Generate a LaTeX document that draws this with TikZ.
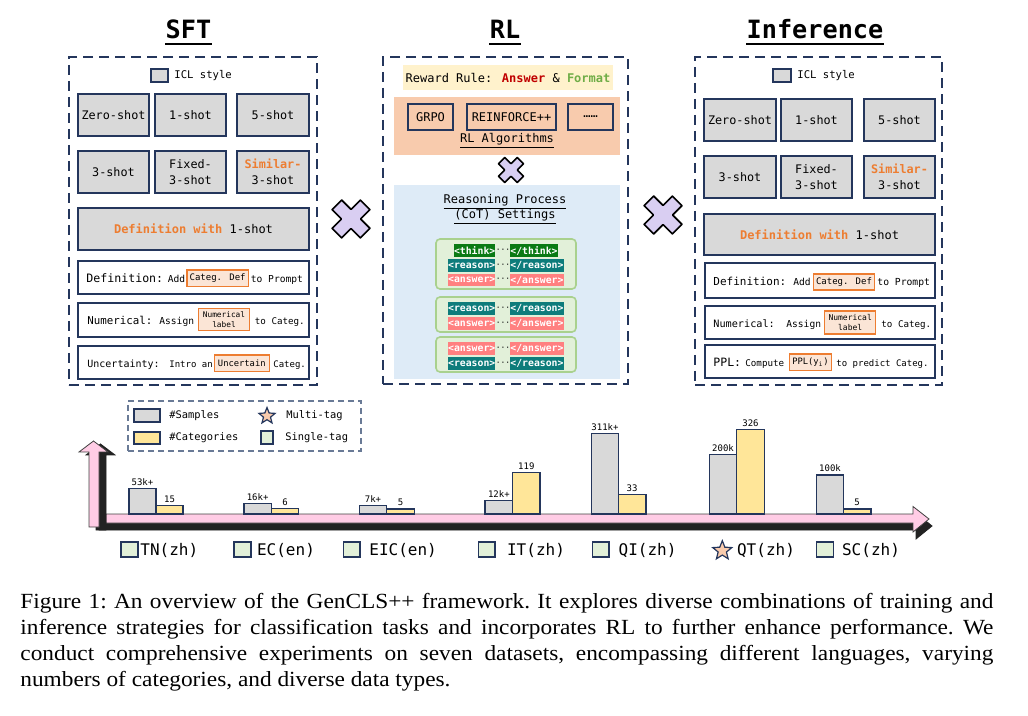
\documentclass[tikz,border=0pt]{standalone}
\usepackage{fontspec}
\setmainfont{Liberation Serif}
\newfontfamily\capfont[FakeStretch=1.08]{Liberation Serif}
\newfontfamily\monof{DejaVu Sans Mono}
\usetikzlibrary{shapes.geometric}
\definecolor{navy}{HTML}{24365C}
\definecolor{lgray}{HTML}{D9D9D9}
\definecolor{orng}{HTML}{ED7D31}
\definecolor{peach}{HTML}{FBE5D6}
\definecolor{rlpeach}{HTML}{F8CBAD}
\definecolor{ryellow}{HTML}{FFF2CC}
\definecolor{rblue}{HTML}{DEEBF7}
\definecolor{ggreen}{HTML}{E2F0D9}
\definecolor{gborder}{HTML}{A9D18E}
\definecolor{thinkc}{HTML}{0A7A14}
\definecolor{reasonc}{HTML}{0E7C7B}
\definecolor{answerc}{HTML}{FF8080}
\definecolor{lav}{HTML}{D9CEF2}
\definecolor{ybar}{HTML}{FFE699}
\definecolor{pinkc}{HTML}{FFCCE5}
\definecolor{dred}{HTML}{C00000}
\definecolor{fgreen}{HTML}{70AD47}
\definecolor{legb}{HTML}{697A96}
\definecolor{shadowc}{HTML}{222222}
\newcommand\mf[2]{\monof\fontsize{#1}{#2}\selectfont}
\newcommand\mybox[7][]{%
  \pgfmathsetmacro\mbW{(#5-#3)*0.5}%
  \pgfmathsetmacro\mbH{(#6-#4)*0.5}%
  \node[inner sep=0pt, minimum width=\mbW pt, minimum height=\mbH pt, #1] (#2) at ({(#3+#5)/2},{(#4+#6)/2}) {#7};}
\newcommand\xcross[3]{%
  \pgfmathsetmacro\cw{0.34*#3}%
  \draw[crossst, shift={(#1,#2)}, rotate=45] (\cw,#3) -- (\cw,\cw) -- (#3,\cw) -- (#3,-\cw) -- (\cw,-\cw) -- (\cw,-#3) -- (-\cw,-#3) -- (-\cw,-\cw) -- (-#3,-\cw) -- (-#3,\cw) -- (-\cw,\cw) -- (-\cw,#3) -- cycle;}
\tikzset{
  panel/.style={draw=navy, line width=1pt, dash pattern=on 5pt off 3pt},
  gbox/.style={draw=navy, fill=lgray, line width=0.6pt},
  wbox/.style={draw=navy, fill=white, line width=0.6pt},
  ibox/.style={draw=orng, fill=peach, line width=0.6pt, align=center},
  txt/.style={inner sep=0pt},
  crossst/.style={fill=lav, draw=black, line width=0.8pt, line join=round},
  algbox/.style={draw=navy, line width=0.6pt, font=\mf{6}{7}},
  grp/.style={fill=ggreen, draw=gborder, line width=0.8pt, rounded corners=2pt},
  tag/.style={inner sep=0pt, minimum height=6.3pt, text=white, font={\mf{4.9}{5}\bfseries}},
  thinktag/.style={tag, fill=thinkc},
  reasontag/.style={tag, fill=reasonc},
  answertag/.style={tag, fill=answerc},
  dots/.style={inner sep=0pt, font=\mf{4}{5}},
  sbar/.style={draw=navy, fill=lgray, line width=0.6pt},
  ybarst/.style={draw=navy, fill=ybar, line width=0.6pt},
  blab/.style={inner sep=0pt, anchor=south, font=\mf{4.5}{5}, yshift=1pt},
  dsw/.style={draw=navy, fill=ggreen, line width=0.6pt},
  dlab/.style={inner sep=0pt, anchor=west, font=\mf{8}{9}},
  legt/.style={inner sep=0pt, anchor=west, font=\mf{5.2}{6}},
  starst/.style={star, star points=5, star point ratio=2.3, draw=navy, fill=rlpeach, line width=0.6pt, inner sep=0pt},
  titlest/.style={inner sep=0pt, anchor=base, font={\mf{12.6}{14}\bfseries}},
  pinkarr/.style={fill=pinkc, draw=black!75, line width=0.4pt},
  blackarr/.style={fill=shadowc, draw=shadowc, line width=0.4pt},
}
\begin{document}
\begin{tikzpicture}[x=0.5pt,y=-0.5pt]
\useasboundingbox (0,0) rectangle (1028,716);

% ---------------- titles
\node[titlest] (tsft) at (188.5,39) {SFT};
\node[titlest] (trl) at (505,39) {RL};
\node[titlest] (tinf) at (815,39) {Inference};
\foreach \t in {tsft,trl,tinf}{
  \draw[line width=1pt] ([yshift=-2.3pt]\t.base west) -- ([yshift=-2.3pt]\t.base east);}

% ---------------- SFT panel
\mybox[panel]{psft}{69}{57}{317}{385}{}
\mybox[gbox]{sicl}{151}{69}{168}{82}{}
\node[txt, anchor=west, font=\mf{5.3}{6}] (sicltx) at (174,75.5) {ICL style};
\mybox[gbox,font=\mf{5.9}{8}]{s11}{78}{94}{149}{136}{Zero-shot}
\mybox[gbox,font=\mf{5.9}{8}]{s12}{155}{94}{226}{136}{1-shot}
\mybox[gbox,font=\mf{5.9}{8}]{s13}{237}{94}{309}{136}{5-shot}
\mybox[gbox,font=\mf{5.9}{8}]{s21}{78}{151}{149}{193}{3-shot}
\mybox[gbox,font=\mf{5.9}{8},align=center]{s22}{155}{151}{226}{193}{Fixed-\\3-shot}
\mybox[gbox,font=\mf{5.9}{8},align=center]{s23}{237}{151}{309}{193}{{\color{orng}\bfseries Similar-}\\3-shot}
\mybox[gbox,font=\mf{6}{7}]{sdw}{78}{208}{309}{250}{{\color{orng}\bfseries Definition with} 1-shot}
% definition row
\mybox[wbox]{sdr}{78}{261}{309}{294}{}
\node[txt, anchor=mid west, font=\mf{5.8}{7}] (sd1) at (86,277.5) {Definition:};
\node[txt, anchor=mid west, font=\mf{4.8}{6}] (sd2) at (167.5,277.5) {Add};
\mybox[ibox,font=\mf{4.5}{5}]{sd3}{187}{270}{248.3}{286.7}{Categ. Def}
\node[txt, anchor=mid west, font=\mf{4.8}{6}] (sd4) at (250.5,277.5) {to Prompt};
% numerical row
\mybox[wbox]{snr}{78}{303}{309}{337}{}
\node[txt, anchor=mid west, font=\mf{5.4}{7}] (sn1) at (87,320) {Numerical:};
\node[txt, anchor=mid west, font=\mf{4.8}{6}] (sn2) at (159,320) {Assign};
\mybox[ibox,font=\mf{3.9}{4.8}]{sn3}{198.7}{308.3}{249.3}{330.7}{Numerical\\label}
\node[txt, anchor=mid west, font=\mf{4.6}{6}] (sn4) at (254.5,320) {to Categ.};
% uncertainty row
\mybox[wbox]{sur}{78}{346}{309}{379}{}
\node[txt, anchor=mid west, font=\mf{5.0}{6}] (su1) at (87,362.5) {Uncertainty:};
\node[txt, anchor=mid west, font=\mf{4.5}{6}] (su2) at (169,362.5) {Intro an};
\mybox[ibox,font=\mf{4.4}{5}]{su3}{214.3}{355}{269.3}{371.7}{Uncertain};
\node[txt, anchor=mid west, font=\mf{4.5}{6}] (su4) at (273,362.5) {Categ.};

% ---------------- Inference panel
\mybox[panel]{pinf}{695}{57}{942}{385}{}
\mybox[gbox]{iicl}{773}{69}{791}{82}{}
\node[txt, anchor=west, font=\mf{5.3}{6}] (iicltx) at (797,75.5) {ICL style};
\mybox[gbox,font=\mf{5.9}{8}]{i11}{704}{99}{776}{141}{Zero-shot}
\mybox[gbox,font=\mf{5.9}{8}]{i12}{781}{99}{852}{141}{1-shot}
\mybox[gbox,font=\mf{5.9}{8}]{i13}{864}{99}{935}{141}{5-shot}
\mybox[gbox,font=\mf{5.9}{8}]{i21}{704}{156}{776}{198}{3-shot}
\mybox[gbox,font=\mf{5.9}{8},align=center]{i22}{781}{156}{852}{198}{Fixed-\\3-shot}
\mybox[gbox,font=\mf{5.9}{8},align=center]{i23}{864}{156}{935}{198}{{\color{orng}\bfseries Similar-}\\3-shot}
\mybox[gbox,font=\mf{6}{7}]{idw}{704}{214}{935}{255}{{\color{orng}\bfseries Definition with} 1-shot}
\mybox[wbox]{idr}{705}{263}{935}{298}{}
\node[txt, anchor=mid west, font=\mf{5.5}{7}] (id1) at (713,280.5) {Definition:};
\node[txt, anchor=mid west, font=\mf{4.8}{6}] (id2) at (793,280.5) {Add};
\mybox[ibox,font=\mf{4.5}{5}]{id3}{813.3}{274}{874.7}{290}{Categ. Def}
\node[txt, anchor=mid west, font=\mf{4.85}{6}] (id4) at (877,280.5) {to Prompt};
\mybox[wbox]{inr}{705}{306}{935}{339}{}
\node[txt, anchor=mid west, font=\mf{5.1}{7}] (in1) at (713,322.7) {Numerical:};
\node[txt, anchor=mid west, font=\mf{4.8}{6}] (in2) at (786,322.7) {Assign};
\mybox[ibox,font=\mf{4.0}{4.8}]{in3}{824.7}{311}{875.7}{334}{Numerical\\label}
\node[txt, anchor=mid west, font=\mf{4.6}{6}] (in4) at (881,322.7) {to Categ.};
\mybox[wbox]{ipr}{705}{345}{935}{378}{}
\node[txt, anchor=mid west, font=\mf{5.75}{7}] (ip1) at (713,361.8) {PPL:};
\node[txt, anchor=mid west, font=\mf{4.6}{6}] (ip2) at (745,361.8) {Compute};
\mybox[ibox,font=\mf{4.4}{5}]{ip3}{789.3}{354}{831.7}{370.7}{PPL(y\textsubscript{i})}
\node[txt, anchor=mid west, font=\mf{4.5}{6}] (ip4) at (836,361.8) {to predict Categ.};

% ---------------- RL panel
\mybox[panel]{prl}{383}{57}{628}{384}{}
\mybox[fill=ryellow]{rr}{403}{65}{613}{90}{}
\node[txt, font=\mf{6}{7}] (rrt) at (508,77.5) {Reward Rule: {\color{dred}\bfseries Answer} \& {\color{fgreen}\bfseries Format}};
\mybox[fill=rlpeach]{ra}{394}{97}{620}{155}{}
\mybox[algbox]{rg}{408}{104}{453}{130}{GRPO}
\mybox[algbox]{rf}{467}{104}{556}{130}{REINFORCE++}
\mybox[algbox]{rd}{568}{104}{613}{130}{……}
\node[txt, font=\mf{6}{7}] (ralg) at (507,141) {\underline{RL Algorithms}};
\xcross{511}{170}{13.2}
\mybox[fill=rblue]{rb}{394}{185}{620}{379}{}
\node[txt, font=\mf{6}{7}] (rp1) at (505,202) {\underline{Reasoning Process}};
\node[txt, font=\mf{6}{7}] (rp2) at (505,217) {\underline{(CoT) Settings}};
\mybox[grp]{g1}{436}{239}{576}{289}{}
\mybox[grp]{g2}{436}{297}{576}{332}{}
\mybox[grp]{g3}{436}{337}{576}{372}{}
% group 1
\node[thinktag, anchor=east] (t1a) at (495.7,250.5) {<think>};
\node[dots] (t1d) at (503,250.5) {···};
\node[thinktag, anchor=west] (t1b) at (510,250.5) {</think>};
\node[reasontag, anchor=east] (t2a) at (495.7,265.5) {<reason>};
\node[dots] (t2d) at (503,265.5) {···};
\node[reasontag, anchor=west] (t2b) at (510,265.5) {</reason>};
\node[answertag, anchor=east] (t3a) at (495.7,280) {<answer>};
\node[dots] (t3d) at (503,280) {···};
\node[answertag, anchor=west] (t3b) at (510,280) {</answer>};
% group 2
\node[reasontag, anchor=east] (t4a) at (495.7,308.5) {<reason>};
\node[dots] (t4d) at (503,308.5) {···};
\node[reasontag, anchor=west] (t4b) at (510,308.5) {</reason>};
\node[answertag, anchor=east] (t5a) at (495.7,323.5) {<answer>};
\node[dots] (t5d) at (503,323.5) {···};
\node[answertag, anchor=west] (t5b) at (510,323.5) {</answer>};
% group 3
\node[answertag, anchor=east] (t6a) at (495.7,348.5) {<answer>};
\node[dots] (t6d) at (503,348.5) {···};
\node[answertag, anchor=west] (t6b) at (510,348.5) {</answer>};
\node[reasontag, anchor=east] (t7a) at (495.7,363.5) {<reason>};
\node[dots] (t7d) at (503,363.5) {···};
\node[reasontag, anchor=west] (t7b) at (510,363.5) {</reason>};

% ---------------- big crosses
\xcross{351}{219}{20}
\xcross{663}{215}{20}

% ---------------- legend
\mybox[draw=legb, line width=0.6pt, dash pattern=on 3pt off 2pt]{leg}{128}{401}{361}{451}{}
\mybox[sbar]{lsw1}{134}{409}{160}{422}{}
\node[legt] (ltx1) at (169,415.5) {\#Samples};
\mybox[ybarst]{lsw2}{134}{432}{160}{444}{}
\node[legt] (ltx2) at (169,437.5) {\#Categories};
\node[starst, minimum size=8.5pt] (lstar) at (267,416) {};
\node[legt] (ltx3) at (286,416) {Multi-tag};
\mybox[dsw]{lsw3}{261}{431}{273}{444}{}
\node[legt] (ltx4) at (285,437.5) {Single-tag};

% ---------------- axes arrows
\draw[blackarr] (99,521) -- (916,521) -- (916,513) -- (932,526) -- (916,539) -- (916,530) -- (99,530) -- cycle;
\draw[pinkarr] (106,514) -- (913,514) -- (913,506.5) -- (929,519) -- (913,532) -- (913,523) -- (106,523) -- cycle;
\draw[blackarr] (96,530) -- (96,455) -- (86,455) -- (100.5,444) -- (115,455) -- (106,455) -- (106,530) -- cycle;
\draw[pinkarr] (89,527) -- (89,452) -- (79,452) -- (93.5,441) -- (108,452) -- (99,452) -- (99,527) -- cycle;

% ---------------- bars
\mybox[sbar]{b1g}{129}{488.3}{156}{514}{}
\mybox[ybarst]{b1y}{156}{505.3}{183}{514}{}
\mybox[sbar]{b2g}{244}{503.3}{271.3}{514}{}
\mybox[ybarst]{b2y}{271.3}{508.3}{298.7}{514}{}
\mybox[sbar]{b3g}{359.3}{505.7}{386.7}{514}{}
\mybox[ybarst]{b3y}{386.7}{509}{414.3}{514}{}
\mybox[sbar]{b4g}{485}{500.3}{512.7}{514}{}
\mybox[ybarst]{b4y}{512.7}{472.3}{540}{514}{}
\mybox[sbar]{b5g}{591.7}{433.3}{618.3}{514}{}
\mybox[ybarst]{b5y}{618.3}{494.3}{646}{514}{}
\mybox[sbar]{b6g}{709.3}{454.3}{736.7}{514}{}
\mybox[ybarst]{b6y}{736.7}{429.3}{764.3}{514}{}
\mybox[sbar]{b7g}{816.7}{475}{843.3}{514}{}
\mybox[ybarst]{b7y}{843.3}{509}{871}{514}{}
\node[blab] (l1g) at (b1g.north) {53k+};
\node[blab] (l1y) at (b1y.north) {15};
\node[blab] (l2g) at (b2g.north) {16k+};
\node[blab] (l2y) at (b2y.north) {6};
\node[blab] (l3g) at (b3g.north) {7k+};
\node[blab] (l3y) at (b3y.north) {5};
\node[blab] (l4g) at (b4g.north) {12k+};
\node[blab] (l4y) at (b4y.north) {119};
\node[blab] (l5g) at (b5g.north) {311k+};
\node[blab] (l5y) at (b5y.north) {33};
\node[blab] (l6g) at (b6g.north) {200k};
\node[blab] (l6y) at (b6y.north) {326};
\node[blab] (l7g) at (b7g.north) {100k};
\node[blab] (l7y) at (b7y.north) {5};

% ---------------- dataset labels
\mybox[dsw]{d1s}{121}{542}{138}{557}{}
\node[dlab] (d1) at (140,550) {TN(zh)};
\mybox[dsw]{d2s}{234}{542}{251}{557}{}
\node[dlab] (d2) at (256.7,550) {EC(en)};
\mybox[dsw]{d3s}{343.3}{542}{360}{557}{}
\node[dlab] (d3) at (369,550) {EIC(en)};
\mybox[dsw]{d4s}{478.3}{542}{495}{557}{}
\node[dlab] (d4) at (506.7,550) {IT(zh)};
\mybox[dsw]{d5s}{592.3}{542}{609}{557}{}
\node[dlab] (d5) at (618.3,550) {QI(zh)};
\node[starst, minimum size=10pt] (d6s) at (722.3,550.7) {};
\node[dlab] (d6) at (736.7,550) {QT(zh)};
\mybox[dsw]{d7s}{816.7}{542}{833.3}{557}{}
\node[dlab] (d7) at (841.7,550) {SC(zh)};

% ---------------- caption
\node[anchor=north west, inner sep=0pt, text width=486.5pt, align=justify, font=\capfont\fontsize{10.8}{13}\selectfont\frenchspacing] (cap) at (20,593) {Figure 1: An overview of the GenCLS++ framework. It explores diverse combinations of training and\linebreak inference strategies for classification tasks and incorporates RL to further enhance performance. We\linebreak conduct comprehensive experiments on seven datasets, encompassing different languages, varying\linebreak numbers of categories, and diverse data types.};
\end{tikzpicture}
\end{document}
